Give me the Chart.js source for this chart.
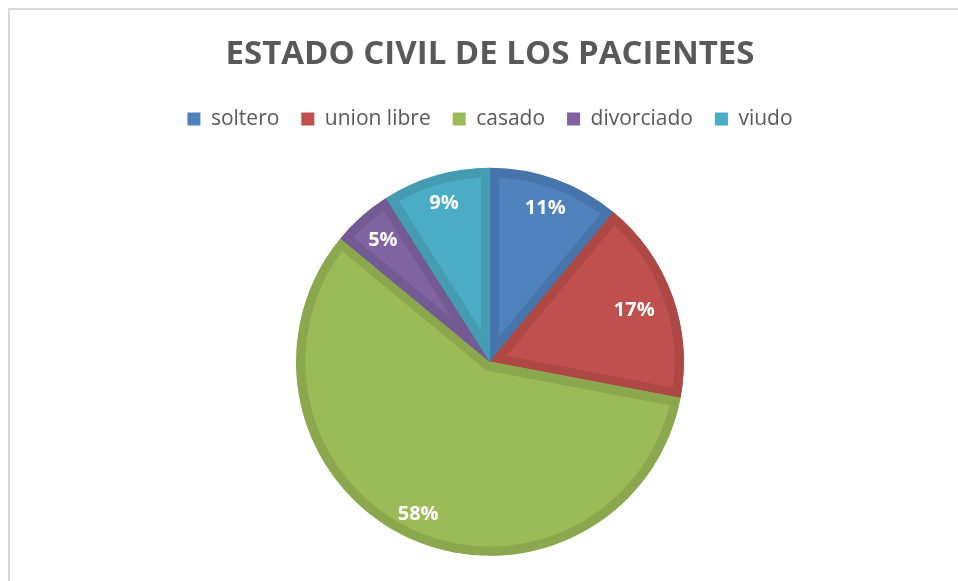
<!DOCTYPE html>
<html>
<head>
<meta charset="utf-8">
<script src="https://cdn.jsdelivr.net/npm/chart.js@4/dist/chart.umd.min.js"></script>
<style>
  body { margin: 0; background: #fff; }
  #wrap { position: relative; width: 958px; height: 581px; overflow: hidden; }
  #frame { position: absolute; left: 8px; top: 8px; width: 2000px; height: 2000px;
           border-left: 2px solid #d9d9d9; border-top: 2px solid #d9d9d9; }
  #chart { position: absolute; left: 0; top: 0; }
</style>
</head>
<body>
<div id="wrap">
  <div id="frame"></div>
  <canvas id="chart" width="958" height="584"></canvas>
</div>
<script>
// Data
const categories = ['soltero', 'union libre', 'casado', 'divorciado', 'viudo'];
const percentages = [11, 17, 58, 5, 9];

// Colours (Excel 2010 palette)
const fillColors = ['#4F81BD', '#C0504D', '#9BBB59', '#8064A2', '#4BACC6'];
const edgeColors = ['#4674AB', '#AD4845', '#8BA84F', '#735A92', '#449BB2'];

// label distance from centre, as a share of the radius (Excel "best fit")
const labelDepth = [0.84, 0.79, 0.87, 0.835, 0.85];

// Draw the percentage labels inside each slice
const sliceLabels = {
  id: 'sliceLabels',
  afterDatasetsDraw(chart) {
    const ctx = chart.ctx;
    const meta = chart.getDatasetMeta(0);
    ctx.save();
    ctx.font = 'bold 20px "Open Sans"';
    ctx.fillStyle = '#ffffff';
    ctx.textAlign = 'center';
    ctx.textBaseline = 'middle';
    meta.data.forEach((arc, i) => {
      const p = arc.getProps(['x', 'y', 'startAngle', 'endAngle', 'outerRadius'], true);
      const mid = (p.startAngle + p.endAngle) / 2;
      const r = p.outerRadius * labelDepth[i];
      ctx.fillText(percentages[i] + '%', p.x + Math.cos(mid) * r, p.y + Math.sin(mid) * r);
    });
    ctx.restore();
  }
};

new Chart(document.getElementById('chart'), {
  type: 'pie',
  data: {
    labels: categories,
    datasets: [{
      data: percentages,
      backgroundColor: fillColors,
      borderColor: edgeColors,
      borderWidth: 9,
      borderAlign: 'inner',
      radius: 194
    }]
  },
  options: {
    responsive: false,
    animation: false,
    events: [],
    layout: { padding: { left: 22, right: 0, top: 11, bottom: 0 } },
    plugins: {
      title: {
        display: true,
        text: 'ESTADO CIVIL DE LOS PACIENTES',
        color: '#595959',
        font: { family: '"Open Sans"', size: 33, weight: 'bold' },
        padding: { top: 24, bottom: 12 }
      },
      legend: {
        position: 'top',
        labels: {
          color: '#595959',
          font: { family: '"Open Sans"', size: 21 },
          boxWidth: 13,
          boxHeight: 13,
          padding: 22,
          generateLabels(chart) {
            const items = Chart.overrides.pie.plugins.legend.labels.generateLabels(chart);
            items.forEach(it => { it.lineWidth = 0; it.strokeStyle = 'rgba(0,0,0,0)'; });
            return items;
          }
        }
      },
      tooltip: { enabled: false }
    }
  },
  plugins: [sliceLabels]
});
</script>
</body>
</html>
